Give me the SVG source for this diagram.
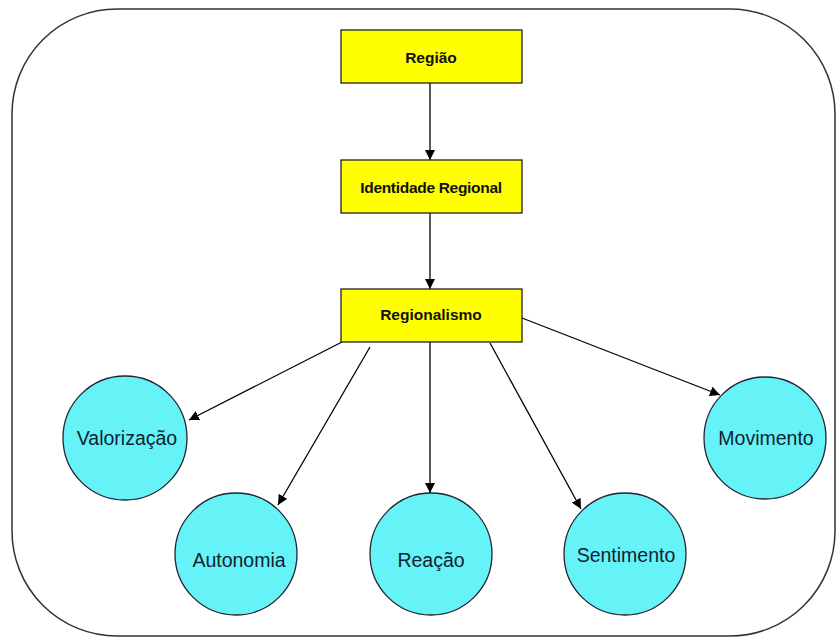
<svg xmlns="http://www.w3.org/2000/svg" width="839" height="639" viewBox="0 0 839 639">
<defs>
<marker id="ah" viewBox="0 0 10 10" refX="10" refY="5" markerWidth="10" markerHeight="10" markerUnits="userSpaceOnUse" orient="auto">
<path d="M0,0 L10,5 L0,10 z" fill="#000"/>
</marker>
<style>
.box{fill:#ffff00;stroke:#222;stroke-width:1.3}
.btxt{font-family:"Liberation Sans",Arial,sans-serif;font-weight:bold;font-size:15.5px;fill:#111;text-anchor:middle}
.circ{fill:#66f3f7;stroke:#223;stroke-width:1.3}
.ctxt{font-family:"Liberation Sans",Arial,sans-serif;font-size:19.5px;fill:#123;text-anchor:middle}
.conn{stroke:#000;stroke-width:1.3;fill:none;marker-end:url(#ah)}
</style>
</defs>
<rect x="12" y="9" width="823" height="627" rx="105" ry="105" fill="#fff" stroke="#333" stroke-width="1.5"/>
<g id="connectors">
<line class="conn" x1="430" y1="83" x2="430" y2="160"/>
<line class="conn" x1="430" y1="213" x2="430" y2="289"/>
<line class="conn" x1="342" y1="342" x2="189" y2="420"/>
<line class="conn" x1="370" y1="347" x2="278" y2="505"/>
<line class="conn" x1="430" y1="342" x2="430" y2="493"/>
<line class="conn" x1="490" y1="343" x2="581" y2="509"/>
<line class="conn" x1="522" y1="318" x2="720" y2="395"/>
</g>
<g id="regiao"><rect class="box" x="341" y="30" width="181" height="53"/><text class="btxt" x="431" y="63">Região</text></g>
<g id="identidade"><rect class="box" x="341" y="160" width="181" height="53"/><text class="btxt" x="431" y="193" letter-spacing="-0.3">Identidade Regional</text></g>
<g id="regionalismo"><rect class="box" x="341" y="289" width="181" height="53"/><text class="btxt" x="431" y="320">Regionalismo</text></g>
<g id="valorizacao"><circle class="circ" cx="125" cy="438" r="62"/><text class="ctxt" x="127" y="445">Valorização</text></g>
<g id="autonomia"><circle class="circ" cx="236" cy="554" r="61"/><text class="ctxt" x="239" y="567">Autonomia</text></g>
<g id="reacao"><circle class="circ" cx="431" cy="554" r="61"/><text class="ctxt" x="431" y="567">Reação</text></g>
<g id="sentimento"><circle class="circ" cx="625" cy="554" r="61"/><text class="ctxt" x="626" y="562">Sentimento</text></g>
<g id="movimento"><circle class="circ" cx="765" cy="438" r="61"/><text class="ctxt" x="766" y="445">Movimento</text></g>
</svg>
